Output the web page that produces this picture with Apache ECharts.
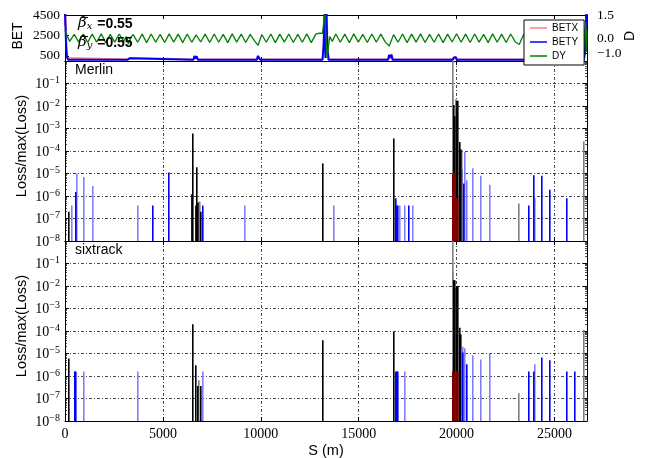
<!DOCTYPE html>
<html>
<head>
<meta charset="utf-8">
<script src="https://cdn.jsdelivr.net/npm/echarts@6.0.0/dist/echarts.min.js"></script>
<style>
html, body { margin: 0; padding: 0; background: #fff; }
#main { width: 645px; height: 458px; }
</style>
</head>
<body>
<div id="main"></div>
<script>
'use strict';

/* axis ranges and tick labels */
var sMax = 26659;
var xTicks = [0, 5000, 10000, 15000, 20000, 25000];
var betTicks = [500, 2500, 4500];
var dTicks = [-1, 0, 1.5];
var lossTicks = [1e-8, 1e-7, 1e-6, 1e-5, 1e-4, 1e-3, 1e-2, 1e-1, 1];
var minorMult = [2, 3, 4, 5, 6, 7, 8, 9];

/* optics: [s, value] */
var betx = [[0, 3500], [30, 4600], [70, 1800], [120, 300], [180, 150], [3190, 150], [3230, 300], [3270, 180], [3310, 290], [3350, 150],
  [6570, 150], [6620, 500], [6670, 260], [6730, 480], [6790, 150], [9810, 150], [9860, 520], [9930, 380], [9980, 150],
  [13160, 150], [13230, 2500], [13270, 4800], [13310, 800], [13360, 4800], [13420, 900], [13480, 150],
  [16510, 150], [16560, 620], [16620, 330], [16680, 640], [16740, 150], [19820, 150], [19860, 360], [19920, 210], [19970, 380], [20020, 150],
  [23170, 150], [23220, 270], [23260, 150], [26490, 150], [26570, 1200], [26620, 4600], [26659, 3500]];

var bety = [[0, 4600], [30, 3000], [60, 1200], [100, 400], [160, 120], [3180, 120], [3220, 280], [3260, 150], [3300, 260], [3340, 120],
  [6560, 120], [6610, 480], [6660, 250], [6720, 460], [6780, 120], [9800, 120], [9850, 480], [9920, 420], [9970, 120],
  [13150, 120], [13210, 1500], [13250, 4800], [13300, 300], [13350, 4800], [13400, 1200], [13460, 120],
  [16500, 120], [16550, 580], [16610, 320], [16670, 620], [16730, 120], [19810, 120], [19850, 330], [19910, 200], [19960, 360], [20010, 120],
  [23160, 120], [23210, 260], [23250, 120], [26500, 120], [26560, 900], [26620, 4600], [26659, 4600]];

var dy = [[0, 0.5], [90, 0.2], [240, -0.22], [470, 0.24], [700, -0.27], [930, 0.26], [1160, -0.29], [1390, 0.25], [1620, -0.28], [1850, 0.27],
  [2080, -0.3], [2310, 0.24], [2540, -0.27], [2770, 0.26], [3000, -0.22], [3130, 0.1], [3240, -0.4], [3360, 0.05], [3480, 0.22], [3710, -0.28],
  [3940, 0.25], [4170, -0.3], [4400, 0.26], [4630, -0.28], [4860, 0.24], [5090, -0.29], [5320, 0.27], [5550, -0.27], [5780, 0.25], [6010, -0.3],
  [6240, 0.26], [6470, -0.28], [6700, 0.2], [6930, -0.26], [7160, 0.25], [7390, -0.29], [7620, 0.26], [7850, -0.28], [8080, 0.24], [8310, -0.3],
  [8540, 0.27], [8770, -0.27], [9000, 0.25], [9230, -0.29], [9460, 0.24], [9690, -0.2], [9860, -0.48], [10050, 0.23], [10280, -0.28], [10510, 0.26],
  [10740, -0.3], [10970, 0.25], [11200, -0.27], [11430, 0.26], [11660, -0.29], [11890, 0.24], [12120, -0.28], [12350, 0.27], [12580, -0.3], [12810, 0.25],
  [13000, 0.32], [13150, 0.3], [13265, 1.6], [13380, -1.3], [13520, 0.1], [13650, -0.22], [13830, 0.26], [14060, -0.28], [14290, 0.25], [14520, -0.3],
  [14750, 0.27], [14980, -0.27], [15210, 0.24], [15440, -0.29], [15670, 0.26], [15900, -0.28], [16130, 0.25], [16360, -0.27], [16560, -0.52], [16780, 0.22],
  [17010, -0.28], [17240, 0.26], [17470, -0.3], [17700, 0.25], [17930, -0.27], [18160, 0.27], [18390, -0.29], [18620, 0.24], [18850, -0.28], [19080, 0.26],
  [19310, -0.3], [19540, 0.25], [19770, -0.26], [20000, 0.28], [20230, -0.28], [20460, 0.25], [20690, -0.29], [20920, 0.26], [21150, -0.27], [21380, 0.24],
  [21610, -0.3], [21840, 0.27], [22070, -0.28], [22300, 0.25], [22530, -0.29], [22760, 0.26], [22990, -0.24], [23200, -0.42], [23420, 0.23], [23650, -0.28],
  [23880, 0.26], [24110, -0.3], [24340, 0.25], [24570, -0.27], [24800, 0.26], [25030, -0.29], [25260, 0.24], [25490, -0.28], [25720, 0.27], [25950, -0.3],
  [26180, 0.25], [26400, -0.2], [26520, -0.35], [26590, 1.0], [26630, -0.9], [26659, 0.5]];

/* Merlin loss map: [s, loss/max] */
var merlinBlack = [[180, 2e-7], [6508, 6e-4], [6712, 1.9e-5], [6790, 5e-7], [6916, 2e-7], [13178, 2.8e-5], [16794, 3.6e-4],
  [19860, 1.1e-2], [19900, 3.5e-3], [20030, 1.7e-2], [20080, 1.7e-2], [20140, 2.5e-4], [20205, 1.2e-4]];
var merlinGray = [[19795, 1], [19825, 3.6e-2], [19970, 2e-2], [20255, 1.1e-4], [6840, 5.5e-7], [6870, 5.5e-7], [23180, 4.7e-7], [26510, 2.7e-4]];
var merlinRed = [[19820, 1e-5], [19860, 1e-5], [19900, 1e-5], [19990, 8e-7], [20030, 8e-7], [20070, 8e-7]];
var merlinBlue = [[535, 1.5e-6], [4470, 3.8e-7], [5320, 1.1e-5], [6477, 1.2e-6], [6661, 3.8e-7], [7052, 3.8e-7], [16900, 8e-7], [16947, 3.8e-7],
  [17000, 3.8e-7], [17556, 3.8e-7], [20276, 1.5e-5], [20343, 3.6e-6], [23669, 3.8e-7], [23924, 8.4e-6], [24330, 8e-6], [24737, 1.9e-6], [25603, 8e-7]];
var merlinLight = [[366, 3.8e-7], [585, 1e-5], [977, 7e-6], [1400, 2.8e-6], [3742, 3.8e-7], [9176, 3.8e-7], [13723, 3.8e-7], [17120, 3.8e-7],
  [17338, 3.8e-7], [17760, 3.8e-7], [20409, 9e-5], [20511, 5e-6], [20852, 1.7e-5], [21259, 8e-6], [21717, 3.2e-6], [23994, 8e-7]];

/* sixtrack loss map */
var sixBlack = [[180, 6e-6], [6508, 2e-4], [6696, 3e-6], [6760, 3.6e-7], [6916, 3.6e-7], [13178, 3.9e-5], [16794, 9e-5],
  [19855, 1.8e-2], [19885, 1.8e-2], [20010, 1e-2], [20050, 1e-2], [20140, 1.4e-4], [20225, 7e-5]];
var sixGray = [[19795, 1], [19820, 4.6e-2], [19970, 8e-3], [6830, 6.5e-7], [23180, 1.7e-7], [26510, 1.1e-4]];
var sixRed = [[19820, 1.6e-6], [19860, 1.6e-6], [19900, 1.6e-6], [19990, 1.6e-6], [20030, 1.6e-6], [20070, 1.6e-6]];
var sixBlue = [[510, 1.6e-6], [560, 1.6e-6], [16900, 1.6e-6], [16950, 1.6e-6], [16990, 1.6e-6], [20330, 1.1e-5], [20511, 3.3e-6],
  [23669, 1.6e-6], [23924, 1.6e-6], [24330, 6.6e-6], [24737, 5e-6], [25603, 1.6e-6], [26045, 1.6e-6]];
var sixLight = [[977, 1.6e-6], [3727, 1.6e-6], [7017, 1.6e-6], [17374, 1.6e-6], [20300, 2e-5], [20400, 1.7e-5], [20852, 8.4e-6],
  [21259, 5.4e-6], [21717, 1e-5], [23994, 3.3e-6]];

var serif = 'Liberation Serif';
var sans = 'Liberation Sans';

var minorTicks = [];
for (var i = 0; i < lossTicks.length - 1; i++) {
  minorMult.forEach(function (m) { minorTicks.push(m * lossTicks[i]); });
}

var gridLine = { color: '#000', type: [3, 2, 1, 2], width: 0.8, opacity: 0.9 };

function plain(v) { return String(v); }

function xAx(grid, pos, labels, split) {
  return {
    type: 'value', gridIndex: grid, position: pos, min: 0, max: sMax,
    axisLine: { onZero: false, lineStyle: { color: '#000', width: 1 } },
    axisTick: { inside: true, length: 4, customValues: xTicks, lineStyle: { color: '#000' } },
    axisLabel: { show: labels, customValues: xTicks, margin: 6, color: '#000', fontFamily: serif, fontSize: 14, formatter: plain },
    splitLine: { show: split, lineStyle: gridLine }
  };
}

function logAx(grid, pos, minor, labels) {
  return {
    type: 'log', logBase: 10, gridIndex: grid, position: pos, min: 1e-8, max: 1,
    axisLine: { show: !minor, onZero: false, lineStyle: { color: '#000', width: 1 } },
    axisTick: { inside: true, length: minor ? 2 : 4, customValues: minor ? minorTicks : lossTicks,
      lineStyle: { color: '#000', width: minor ? 0.7 : 1 } },
    axisLabel: {
      show: labels, customValues: lossTicks, margin: 5,
      formatter: function (v) {
        var e = Math.round(Math.log10(v));
        return e === 0 ? '' : '{b|10}{s|\u2212' + (-e) + '}';
      },
      rich: {
        b: { fontFamily: serif, fontSize: 14, color: '#000', verticalAlign: 'bottom', lineHeight: 16 },
        s: { fontFamily: serif, fontSize: 10, color: '#000', verticalAlign: 'top', lineHeight: 10, padding: [0, 0, 6, 0] }
      }
    },
    splitLine: { show: labels, lineStyle: gridLine }
  };
}

function lossSeries(data, xi, yi, color, w) {
  return {
    type: 'custom', xAxisIndex: xi, yAxisIndex: yi, data: data, clip: true,
    encode: { x: 0, y: 1 },
    renderItem: function (params, api) {
      var top = api.coord([api.value(0), api.value(1)]);
      var base = api.coord([api.value(0), lossTicks[0]]);
      return {
        type: 'rect',
        shape: { x: Math.round(top[0] - w / 2), y: top[1], width: w, height: base[1] - top[1] },
        style: { fill: color }
      };
    }
  };
}

function betaLabel(sub, y) {
  return {
    type: 'text', x: 78, y: y, z: 50,
    style: {
      text: '{g|\u03b2}{u|' + sub + '}{v| =0.55}', fill: '#000',
      rich: {
        g: { fontFamily: 'DejaVu Serif', fontStyle: 'italic', fontSize: 15, lineHeight: 18, verticalAlign: 'bottom' },
        u: { fontFamily: 'DejaVu Serif', fontStyle: 'italic', fontSize: 10, lineHeight: 10, verticalAlign: 'bottom', padding: [0, 1, 0, 0] },
        v: { fontFamily: sans, fontWeight: 'bold', fontSize: 14, lineHeight: 18, verticalAlign: 'bottom' }
      }
    }
  };
}

var chart = echarts.init(document.getElementById('main'), null, { renderer: 'canvas' });

var option = {
  animation: false,
  backgroundColor: '#fff',
  grid: [
    { left: 65, top: 15, width: 522, height: 46 },
    { left: 65, top: 61, width: 522, height: 180 },
    { left: 65, top: 241, width: 522, height: 180 }
  ],
  xAxis: [
    xAx(0, 'bottom', false, false), xAx(0, 'top', false, false),
    xAx(1, 'bottom', false, true), xAx(1, 'top', false, false),
    xAx(2, 'bottom', true, true), xAx(2, 'top', false, false)
  ],
  yAxis: [
    {
      type: 'value', gridIndex: 0, position: 'left', min: 0, max: 4500,
      axisLine: { onZero: false, lineStyle: { color: '#000' } },
      axisTick: { inside: true, length: 4, customValues: betTicks, lineStyle: { color: '#000' } },
      axisLabel: { customValues: betTicks, margin: 5, color: '#000', fontFamily: serif, fontSize: 13.5, formatter: plain },
      splitLine: { show: false }
    },
    {
      type: 'value', gridIndex: 0, position: 'right', min: -1.5, max: 1.5,
      axisLine: { onZero: false, lineStyle: { color: '#000' } },
      axisTick: { inside: true, length: 4, customValues: dTicks, lineStyle: { color: '#000' } },
      axisLabel: {
        customValues: dTicks, margin: 10, color: '#000', fontFamily: serif, fontSize: 13.5,
        formatter: function (v) { return (v < 0 ? '\u2212' : '') + Math.abs(v).toFixed(1); }
      },
      splitLine: { show: false }
    },
    logAx(1, 'left', false, true), logAx(1, 'left', true, false), logAx(1, 'right', false, false), logAx(1, 'right', true, false),
    logAx(2, 'left', false, true), logAx(2, 'left', true, false), logAx(2, 'right', false, false), logAx(2, 'right', true, false)
  ],
  legend: {
    data: ['BETX', 'BETY', 'DY'],
    orient: 'vertical', left: 524, top: 20,
    backgroundColor: '#fff', borderColor: '#000', borderWidth: 1, borderRadius: 0,
    padding: [2, 6, 3, 6], itemGap: 2, itemWidth: 17, itemHeight: 1.5, icon: 'rect',
    selectedMode: false,
    textStyle: { fontFamily: sans, fontSize: 10, color: '#000', lineHeight: 12 }
  },
  graphic: [
    { type: 'text', x: 18, y: 36, rotation: Math.PI / 2,
      style: { text: 'BET', fontFamily: sans, fontSize: 14, fill: '#000', textAlign: 'center', textVerticalAlign: 'middle' } },
    { type: 'text', x: 630, y: 36, rotation: Math.PI / 2,
      style: { text: 'D', fontFamily: sans, fontSize: 14, fill: '#000', textAlign: 'center', textVerticalAlign: 'middle' } },
    { type: 'text', x: 22, y: 146, rotation: Math.PI / 2,
      style: { text: 'Loss/max(Loss)', fontFamily: sans, fontSize: 14.5, fill: '#000', textAlign: 'center', textVerticalAlign: 'middle' } },
    { type: 'text', x: 22, y: 326, rotation: Math.PI / 2,
      style: { text: 'Loss/max(Loss)', fontFamily: sans, fontSize: 14.5, fill: '#000', textAlign: 'center', textVerticalAlign: 'middle' } },
    { type: 'text', x: 326, y: 451,
      style: { text: 'S (m)', fontFamily: sans, fontSize: 14.5, fill: '#000', textAlign: 'center', textVerticalAlign: 'middle' } },
    { type: 'text', x: 75, y: 70, z: 50,
      style: { text: 'Merlin', fontFamily: sans, fontSize: 14, fill: '#000', textAlign: 'left', textVerticalAlign: 'middle' } },
    { type: 'text', x: 75, y: 250, z: 50,
      style: { text: 'sixtrack', fontFamily: sans, fontSize: 14, fill: '#000', textAlign: 'left', textVerticalAlign: 'middle' } },
    betaLabel('x', 13),
    betaLabel('y', 32),
    /* mean bars over the beta symbols */
    { type: 'line', z: 50, shape: { x1: 81, y1: 17.5, x2: 88, y2: 17.5 }, style: { stroke: '#000', lineWidth: 1 } },
    { type: 'line', z: 50, shape: { x1: 81, y1: 36.5, x2: 88, y2: 36.5 }, style: { stroke: '#000', lineWidth: 1 } }
  ],
  series: [
    { name: 'BETX', type: 'line', xAxisIndex: 0, yAxisIndex: 0, data: betx, showSymbol: false, symbol: 'none', clip: true,
      color: 'rgba(255,0,0,0.5)', lineStyle: { color: 'rgba(255,0,0,0.5)', width: 2 } },
    { name: 'BETY', type: 'line', xAxisIndex: 0, yAxisIndex: 0, data: bety, showSymbol: false, symbol: 'none', clip: true,
      color: '#0000ff', lineStyle: { color: '#0000ff', width: 2 } },
    { name: 'DY', type: 'line', xAxisIndex: 0, yAxisIndex: 1, data: dy, showSymbol: false, symbol: 'none', clip: true,
      color: '#008000', lineStyle: { color: '#008000', width: 1.3 } },

    lossSeries(merlinLight, 2, 2, '#8080ff', 1.6),
    lossSeries(merlinBlue, 2, 2, '#0000ff', 1.6),
    lossSeries(merlinGray, 2, 2, '#808080', 1.6),
    lossSeries(merlinBlack, 2, 2, '#000000', 1.6),
    lossSeries(merlinRed, 2, 2, '#800000', 1.6),

    lossSeries(sixLight, 4, 6, '#8080ff', 1.6),
    lossSeries(sixBlue, 4, 6, '#0000ff', 1.6),
    lossSeries(sixGray, 4, 6, '#808080', 1.6),
    lossSeries(sixBlack, 4, 6, '#000000', 1.6),
    lossSeries(sixRed, 4, 6, '#800000', 1.6)
  ]
};

chart.setOption(option);
</script>
</body>
</html>
